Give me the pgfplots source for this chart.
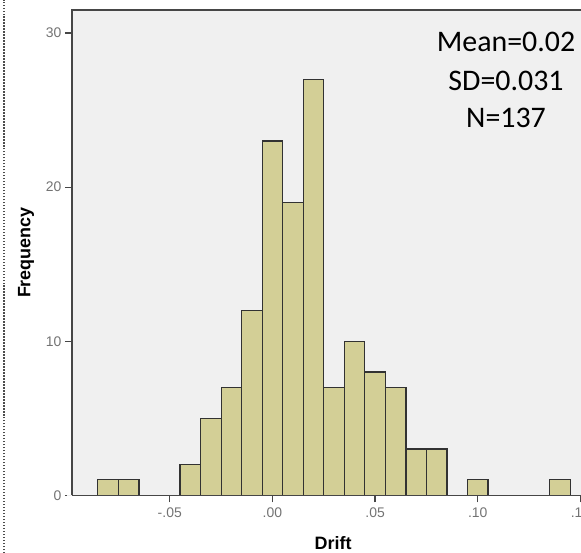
\documentclass[border=0pt]{standalone}
\usepackage{pgfplots}
\pgfplotsset{compat=1.18}
\usepackage{fontspec}
\setmainfont{Liberation Sans}
\newfontfamily\calib{Carlito}
\definecolor{barfill}{RGB}{211,207,150}
\definecolor{baredge}{RGB}{50,50,50}
\definecolor{plotbg}{RGB}{240,240,240}
\definecolor{tickgray}{RGB}{115,115,115}
\definecolor{axgray}{RGB}{70,70,70}
\begin{document}
\begin{tikzpicture}[x=1bp,y=1bp]
\begin{axis}[
  at={(0,0)}, anchor=south west,
  scale only axis,
  width=513bp, height=485.3bp,
  xmin=-0.0976, xmax=0.1522,
  ymin=0, ymax=31.5,
  axis background/.style={fill=plotbg},
  axis line style={axgray, line width=1.3pt},
  xtick={-0.05,0,0.05,0.1,0.15},
  xticklabels={-.05,.00,.05,.10,.15},
  ytick={0,10,20,30},
  tick align=outside,
  major tick length=7bp,
  tick style={axgray, line width=1.3pt},
  xtick pos=bottom, ytick pos=left,
  tick label style={font=\fontsize{14}{16}\selectfont, text=tickgray},
  xticklabel style={yshift=-2bp},
  /pgf/number format/assume math mode=true,
  xlabel={\textbf{Drift}},
  ylabel={\textbf{Frequency}},
  label style={font=\fontsize{18}{20}\selectfont},
  xlabel style={at={(axis description cs:0.509,0)}, anchor=center, yshift=-47.5bp},
  ylabel style={at={(axis description cs:-0.0897,0.5)}, anchor=center},
  clip=false,
]
\addplot[ybar interval, fill=barfill, draw=baredge, line width=1.2pt] coordinates {
(-0.085,1) (-0.075,1) (-0.065,0) (-0.055,0) (-0.045,2) (-0.035,5) (-0.025,7)
(-0.015,12) (-0.005,23) (0.005,19) (0.015,27) (0.025,7) (0.035,10) (0.045,8)
(0.055,7) (0.065,3) (0.075,3) (0.085,0) (0.095,1) (0.105,0) (0.115,0) (0.125,0)
(0.135,1) (0.145,1)
};
\end{axis}
\fill[plotbg] (-5,-0.6) rectangle (0,0.6);
\draw[axgray, line width=1.3pt] (0,0) -- (513,0);
\node[anchor=base, font=\calib\fontsize{30}{36}\selectfont] at (434,443.3) {Mean=0.02};
\node[anchor=base, font=\calib\fontsize{30}{36}\selectfont] at (434,404.6) {SD=0.031};
\node[anchor=base, font=\calib\fontsize{30}{36}\selectfont] at (434,367.3) {N=137};
\draw[black!70, line width=1.5pt, dash pattern=on 1.5pt off 1.5pt] (-68,-57.7) -- (-68,495.3);
\pgfresetboundingbox
\path[use as bounding box] (-72,-57.7) rectangle (509,495.3);
\end{tikzpicture}
\end{document}
